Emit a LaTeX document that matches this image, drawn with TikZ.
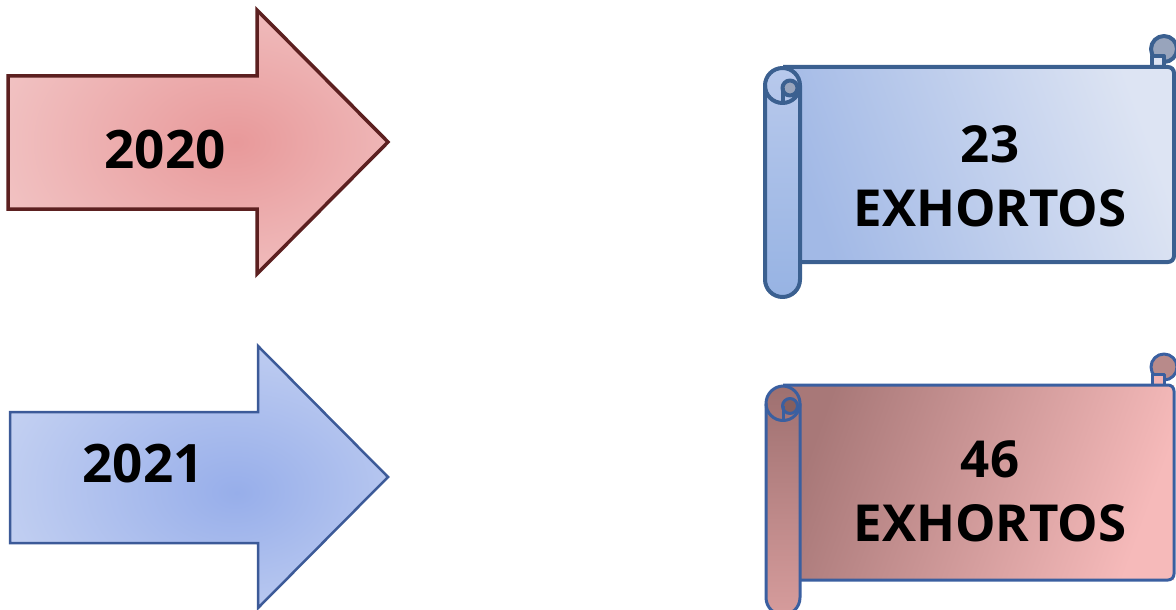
\documentclass[tikz,border=0pt]{standalone}
\usepackage{fontspec}
\setmainfont{Open Sans}
\definecolor{aLine}{HTML}{5C2020}
\definecolor{aIn}{HTML}{E8999A}
\definecolor{aOut}{HTML}{F7DCDC}
\definecolor{bLine}{HTML}{3C5A98}
\definecolor{bIn}{HTML}{97AEEA}
\definecolor{bOut}{HTML}{DEE5F6}
\definecolor{sALine}{HTML}{3B6090}
\definecolor{sAdark}{HTML}{A2B9E6}
\definecolor{sAlight}{HTML}{DDE4F3}
\definecolor{sArollTop}{HTML}{B8C9EC}
\definecolor{sArollBot}{HTML}{97B3E3}
\definecolor{sAcurl}{HTML}{98A4BC}
\definecolor{sBLine}{HTML}{3A5FA0}
\definecolor{sBdark}{HTML}{A87878}
\definecolor{sBlight}{HTML}{F6BABA}
\definecolor{sBrollTop}{HTML}{9E7070}
\definecolor{sBrollBot}{HTML}{D69C9C}
\definecolor{sBcurl}{HTML}{B88A8A}
\definecolor{sBstrip}{HTML}{F2B4B4}
\definecolor{sAstrip}{HTML}{DCE3F3}
\pgfdeclareradialshading{redglow}{\pgfpoint{5bp}{0bp}}{color(0bp)=(aIn); color(50bp)=(aOut); color(75bp)=(aOut)}
\pgfdeclareradialshading{blueglow}{\pgfpoint{5bp}{-3bp}}{color(0bp)=(bIn); color(50bp)=(bOut); color(75bp)=(bOut)}
\begin{document}
\begin{tikzpicture}[x=1pt,y=-1pt,
  yeartext/.style={font=\fontsize{53}{60}\selectfont\bfseries, text=black, inner sep=0pt},
  scrolltext/.style={font=\fontsize{51}{64}\selectfont\bfseries, text=black, align=center, inner sep=0pt},
  sline/.style={draw=sALine, line width=4pt, line join=round},
  sbody/.style={left color=sAdark, right color=sAlight, shading angle=110},
  sroll/.style={top color=sArollTop, bottom color=sArollBot},
  scurl/.style={fill=sAcurl},
  sstrip/.style={fill=sAstrip}]
\clip (0,0) rectangle (1176,610);
\fill[white] (0,0) rectangle (1176,610);

% arrow 2020
\draw[line width=3.5pt, draw=aLine, shading=redglow, line join=miter]
  (8,76) -- (257,76) -- (257,10) -- (388,142) -- (257,274) -- (257,209) -- (8,209) -- cycle;
\node[yeartext] (y2020) at (165,150) {2020};

% arrow 2021
\draw[line width=2.5pt, draw=bLine, shading=blueglow, line join=miter]
  (10,412) -- (258,412) -- (258,346) -- (388,477) -- (258,608) -- (258,543) -- (10,543) -- cycle;
\node[yeartext] (y2021) at (143,464) {2021};

% scroll 1
\begin{scope}
  \filldraw[sline, scurl] (1164,49) circle (13);
  \filldraw[sline, sstrip] (1152,56) rectangle (1164,69);
  \shade[sbody] (783,67) -- (1174,67) -- (1174,262) -- (800,262) -- (800,87) -- cycle;
  \draw[sline, rounded corners=6] (783,67) -- (1174,67) -- (1174,262) -- (800,262);
  \draw[sline, sroll, rounded corners=17.5] (765,68) rectangle (800,297);
  \draw[sline] (765,85.5) arc[start angle=180, end angle=0, radius=17.5];
  \filldraw[sline, scurl] (790,88) circle (7.5);
  \draw[sline] (783,88) -- (783,103);
\end{scope}
\node[scrolltext] (s1) at (990,176) {23\\EXHORTOS};

% scroll 2
\begin{scope}[yshift=-318pt,
  sline/.style={draw=sBLine, line width=3pt, line join=round},
  sbody/.style={left color=sBdark, right color=sBlight, shading angle=70},
  sroll/.style={top color=sBrollTop, bottom color=sBrollBot},
  scurl/.style={fill=sBcurl},
  sstrip/.style={fill=sBstrip}]
  \filldraw[sline, scurl] (1164,49) circle (13);
  \filldraw[sline, sstrip] (1152,56) rectangle (1164,69);
  \shade[sbody] (783,67) -- (1174,67) -- (1174,262) -- (800,262) -- (800,87) -- cycle;
  \draw[sline, rounded corners=6] (783,67) -- (1174,67) -- (1174,262) -- (800,262);
  \draw[sline, sroll, rounded corners=17.5] (766,68) rectangle (800,297);
  \draw[sline] (766,85.5) arc[start angle=180, end angle=0, radius=17];
  \filldraw[sline, fill=sBrollTop!85!black] (790,88) circle (7.5);
  \draw[sline] (783,88) -- (783,103);
\end{scope}
\node[scrolltext] (s2) at (990,491) {46\\EXHORTOS};
\end{tikzpicture}
\end{document}
